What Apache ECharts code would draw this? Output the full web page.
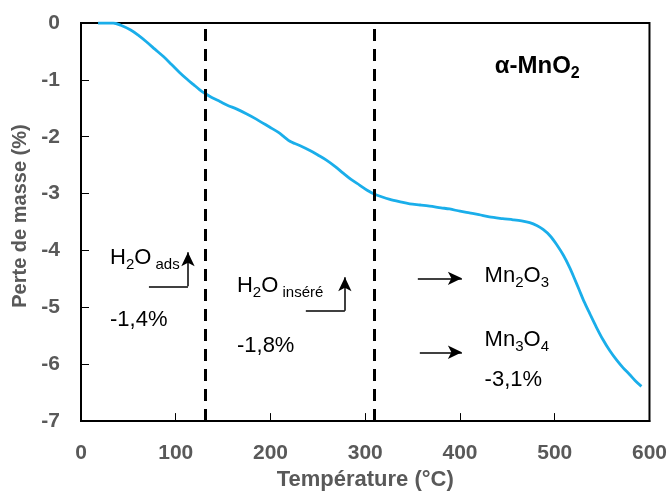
<!DOCTYPE html>
<html>
<head>
<meta charset="utf-8">
<script src="https://cdn.jsdelivr.net/npm/echarts@6/dist/echarts.min.js"></script>
<style>html,body{margin:0;padding:0;background:#fff}#c{width:670px;height:496px}</style>
</head>
<body>
<div id="c"></div>
<script>
// Temperature (°C) and mass loss (%)
const temps = [18,25,34,42,52,60,69,78,87,95,104,112,118.5,125,131,138,146.6,155,164,175,185,199,208,215,220.5,225.7,233,241.6,250,259,268,276.7,285,294,302,310,318,326,336,347,358,368,380,389,400,410,420,431,445,456,465,473.6,481,487.7,495,501.8,509,515.8,521,526,531,537,544,551,558,565,572,579,585,591.5];
const massLoss = [0,0,0,-0.04,-0.12,-0.21,-0.33,-0.46,-0.59,-0.72,-0.87,-0.99,-1.08,-1.17,-1.24,-1.31,-1.38,-1.45,-1.51,-1.60,-1.69,-1.83,-1.92,-2.01,-2.08,-2.12,-2.17,-2.24,-2.32,-2.41,-2.52,-2.64,-2.75,-2.85,-2.94,-3.01,-3.06,-3.10,-3.14,-3.18,-3.20,-3.22,-3.25,-3.27,-3.31,-3.34,-3.37,-3.41,-3.44,-3.46,-3.48,-3.51,-3.56,-3.63,-3.74,-3.89,-4.08,-4.30,-4.50,-4.70,-4.90,-5.11,-5.35,-5.57,-5.76,-5.92,-6.06,-6.18,-6.29,-6.39];
const xTicks = [0,100,200,300,400,500,600];
const yTicks = [0,-1,-2,-3,-4,-5,-6,-7];
const dividers = [131, 310];

const data = temps.map((t,i)=>[t, massLoss[i]]);
const txtFont = 'Liberation Sans, Arial, sans-serif';

const chart = echarts.init(document.getElementById('c'));
const arrowStyle = {color:'#000', width:1.5, type:'solid'};
function seg(x1,y1,x2,y2,arrow){
  return [{coord:[x1,y1], symbol:'none'},{coord:[x2,y2], symbol: arrow?'arrow':'none', symbolSize:[10,14]}];
}
chart.setOption({
  animation:false,
  grid:{left:81, top:23, right:20, bottom:70, show:true, borderColor:'#000', borderWidth:2, backgroundColor:'transparent'},
  xAxis:{type:'value', min:0, max:600, interval:100,
    name:'Température (°C)', nameLocation:'middle', nameGap:41,
    nameTextStyle:{fontFamily:txtFont, fontWeight:'bold', fontSize:22, color:'#595959'},
    axisLine:{show:true, onZero:false, lineStyle:{color:'#000', width:2}},
    axisTick:{show:true, inside:true, length:8, lineStyle:{color:'#000', width:1}},
    axisLabel:{margin:22, fontFamily:txtFont, fontWeight:'bold', fontSize:21, color:'#595959',
      formatter:v=> xTicks.includes(v)? String(v):''},
    splitLine:{show:false}},
  yAxis:{type:'value', min:-7, max:0, interval:1,
    name:'Perte de masse (%)', nameLocation:'middle', nameGap:44,
    nameTextStyle:{fontFamily:txtFont, fontWeight:'bold', fontSize:20, color:'#595959', padding:[0,0,0,12]},
    axisLine:{show:true, onZero:false, lineStyle:{color:'#000', width:2}},
    axisTick:{show:true, inside:true, length:8, lineStyle:{color:'#000', width:1}},
    axisLabel:{margin:21, fontFamily:txtFont, fontWeight:'bold', fontSize:21, color:'#595959',
      formatter:v=> yTicks.includes(v)? String(v):''},
    splitLine:{show:false}},
  series:[{
    type:'line', data:data, smooth:0.3, showSymbol:false,
    lineStyle:{color:'#1AAEEA', width:2.8},
    markLine:{silent:true, symbol:'none', animation:false, label:{show:false},
      data: dividers.map(d=>({xAxis:d, lineStyle:{color:'#000', width:3, type:[12,8]}}))
    }
  },{
    type:'line', data:[],
    markLine:{silent:true, animation:false, label:{show:false}, lineStyle:arrowStyle,
      data:[
        seg(71.7,-4.63,112.9,-4.63,false),
        seg(112.9,-4.63,112.9,-4.03,true),
        seg(237.3,-5.06,278.5,-5.06,false),
        seg(278.5,-5.06,278.5,-4.47,true),
        seg(355.5,-4.49,402,-4.49,true),
        seg(357.6,-5.79,402,-5.79,true)
      ]}
  }]
});

// Text annotations placed in data coordinates
const notes = [
  {x:30.6, y:-4.16, text:'{b|H}{s|2}{b|O}{s| ads}'},
  {x:30.6, y:-5.26, text:'{b|-1,4%}'},
  {x:164.6, y:-4.65, text:'{b|H}{s|2}{b|O}{s| inséré}'},
  {x:164.6, y:-5.71, text:'{b|-1,8%}'},
  {x:426, y:-4.48, text:'{b|Mn}{s|2}{b|O}{s|3}'},
  {x:426, y:-5.60, text:'{b|Mn}{s|3}{b|O}{s|4}'},
  {x:426, y:-6.32, text:'{b|-3,1%}'},
  {x:436.7, y:-0.79, text:'{t|α-MnO}{ts|2}'}
];
const rich = {
  b:{fontFamily:txtFont, fontSize:22, color:'#111', verticalAlign:'bottom', padding:[0,0,4,0]},
  s:{fontFamily:txtFont, fontSize:15, color:'#111', verticalAlign:'bottom'},
  t:{fontFamily:txtFont, fontSize:24, fontWeight:'bold', color:'#000', verticalAlign:'bottom', padding:[0,0,4,0]},
  ts:{fontFamily:txtFont, fontSize:16, fontWeight:'bold', color:'#000', verticalAlign:'bottom'}
};
chart.setOption({graphic: notes.map(n=>{
  const p = chart.convertToPixel({gridIndex:0}, [n.x, n.y]);
  return {type:'text', x:p[0], y:p[1], silent:true,
    style:{text:n.text, rich:rich, align:'left', verticalAlign:'middle'}};
})});
</script>
</body>
</html>
